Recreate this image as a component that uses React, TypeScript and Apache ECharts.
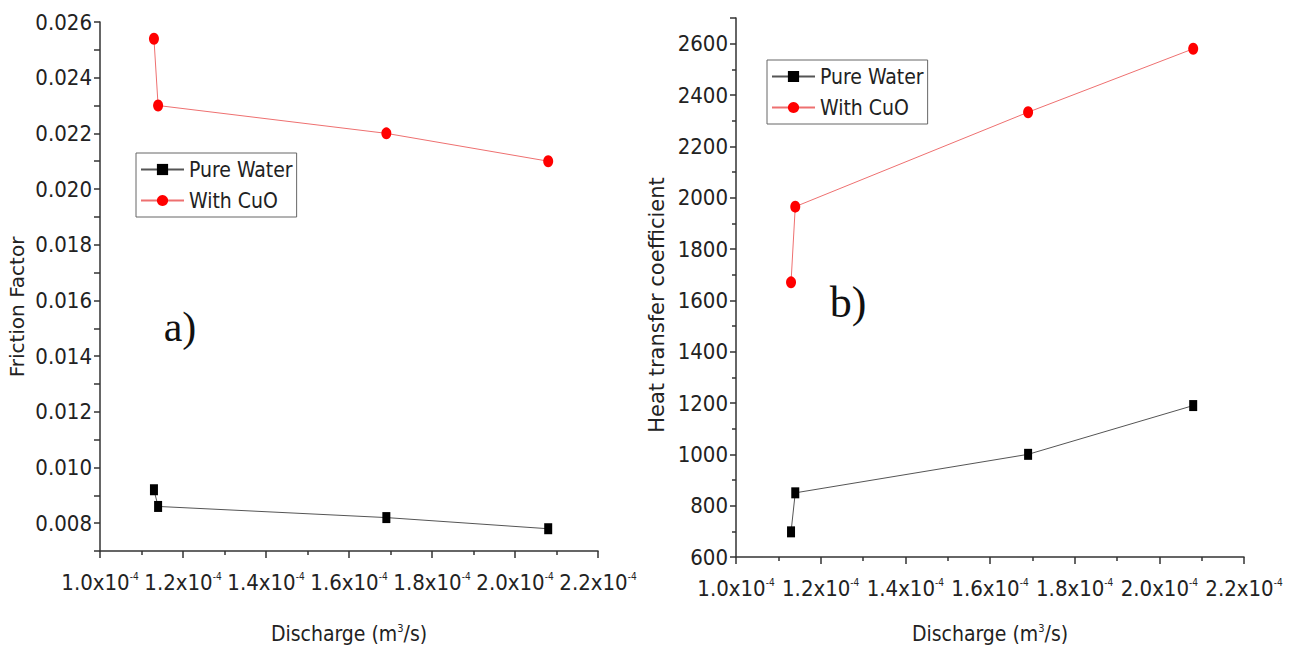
import React, { useEffect, useRef } from "react";
import * as echarts from "echarts";

// Discharge values, in units of 10^-4 m^3/s
const dischargeE4 = [1.13, 1.14, 1.69, 2.08];
// a) Friction factor
const frictionPureWater = [0.0092, 0.0086, 0.0082, 0.0078];
const frictionWithCuO = [0.0254, 0.023, 0.022, 0.021];
// b) Heat transfer coefficient
const heatPureWater = [698, 850, 1000, 1190];
const heatWithCuO = [1670, 1965, 2333, 2580];

const seriesNames = ["Pure Water", "With CuO"];
const xAxisName = "Discharge (m{s|3}/s)";
const yNameA = "Friction Factor";
const yNameB = "Heat transfer coefficient";
const panelLabels = ["a)", "b)"];

const NARROW =
  "'Liberation Sans Narrow', 'Arial Narrow', 'DejaVu Sans Condensed', sans-serif";
const AXIS_COLOR = "#333";
const TEXT_COLOR = "#222";

function xAxisFor(gridIndex: number, nameGap: number) {
  return {
    type: "value",
    gridIndex,
    min: 1.0,
    max: 2.2,
    interval: 0.2,
    axisLine: { show: true, onZero: false, lineStyle: { color: AXIS_COLOR, width: 1.5 } },
    axisTick: { show: true, inside: false, length: 7, lineStyle: { color: AXIS_COLOR, width: 1.5 } },
    minorTick: { show: true, splitNumber: 2, length: 4, lineStyle: { color: AXIS_COLOR, width: 1.5 } },
    splitLine: { show: false },
    minorSplitLine: { show: false },
    axisLabel: {
      margin: 20,
      formatter: (v: number) => `{b|${Number(v).toFixed(1)}x10}{s|-4}`,
      rich: {
        b: { fontFamily: NARROW, fontSize: 22, color: TEXT_COLOR, lineHeight: 22 },
        s: { fontFamily: NARROW, fontSize: 10, color: TEXT_COLOR, lineHeight: 10, verticalAlign: "top" },
      },
    },
    name: xAxisName,
    nameLocation: "middle",
    nameGap,
    nameTextStyle: {
      fontFamily: NARROW,
      fontSize: 21,
      color: TEXT_COLOR,
      rich: {
        s: { fontFamily: NARROW, fontSize: 11, color: TEXT_COLOR, lineHeight: 10, verticalAlign: "top" },
      },
    },
  };
}

function yAxisBase(gridIndex: number) {
  return {
    type: "value",
    gridIndex,
    axisLine: { show: true, onZero: false, lineStyle: { color: AXIS_COLOR, width: 1.5 } },
    axisTick: { show: true, inside: false, length: 6, lineStyle: { color: AXIS_COLOR, width: 1.5 } },
    splitLine: { show: false },
  };
}

function pureWaterSeries(xi: number, data: number[]) {
  return {
    name: seriesNames[0],
    type: "line",
    xAxisIndex: xi,
    yAxisIndex: xi,
    data: dischargeE4.map((x, i) => [x, data[i]]),
    symbol: "rect",
    symbolSize: [8, 11],
    itemStyle: { color: "#000" },
    lineStyle: { color: "#555", width: 1 },
    z: 3,
  };
}

function cuoSeries(xi: number, data: number[]) {
  return {
    name: seriesNames[1],
    type: "line",
    xAxisIndex: xi,
    yAxisIndex: xi,
    data: dischargeE4.map((x, i) => [x, data[i]]),
    symbol: "circle",
    symbolSize: [10, 12],
    itemStyle: { color: "#ff0000" },
    lineStyle: { color: "#ee7070", width: 1 },
    z: 3,
  };
}

function legendAt(left: number, top: number) {
  return {
    left,
    top,
    orient: "vertical",
    itemWidth: 43,
    itemHeight: 14,
    itemGap: 8,
    padding: [5, 4, 5, 4],
    borderColor: "#666",
    borderWidth: 1,
    backgroundColor: "#fff",
    textStyle: { fontFamily: NARROW, fontSize: 21, color: TEXT_COLOR, lineHeight: 23 },
    data: seriesNames,
  };
}

export default function App() {
  const ref = useRef<HTMLDivElement>(null);

  useEffect(() => {
    if (!ref.current) return;
    const chart = echarts.init(ref.current, undefined, { renderer: "svg" });
    const option: any = {
      animation: false,
      backgroundColor: "#fff",
      grid: [
        { left: 100, top: 22, width: 498, height: 529 },
        { left: 736, top: 18, width: 508, height: 539 },
      ],
      xAxis: [xAxisFor(0, 72), xAxisFor(1, 66)],
      yAxis: [
        {
          ...yAxisBase(0),
          min: 0.007,
          max: 0.026,
          interval: 0.001,
          axisLabel: {
            margin: 8,
            fontFamily: NARROW,
            fontSize: 22,
            color: TEXT_COLOR,
            formatter: (v: number) => {
              const k = Math.round(v * 1000);
              return Math.abs(v * 1000 - k) < 1e-6 && k % 2 === 0 ? v.toFixed(3) : "";
            },
          },
        },
        {
          ...yAxisBase(1),
          min: 600,
          max: 2700,
          interval: 200,
          minorTick: { show: true, splitNumber: 2, length: 4, lineStyle: { color: AXIS_COLOR, width: 1.5 } },
          axisLabel: {
            margin: 8,
            fontFamily: NARROW,
            fontSize: 22,
            color: TEXT_COLOR,
            formatter: (v: number) => (Math.round(v) % 200 === 0 ? String(Math.round(v)) : ""),
          },
        },
      ],
      legend: [legendAt(136, 153), legendAt(767, 60)],
      series: [
        pureWaterSeries(0, frictionPureWater),
        cuoSeries(0, frictionWithCuO),
        pureWaterSeries(1, heatPureWater),
        cuoSeries(1, heatWithCuO),
      ],
      graphic: [
        {
          type: "text",
          x: 17,
          y: 307,
          rotation: Math.PI / 2,
          style: {
            text: yNameA,
            font: "20px 'DejaVu Sans', sans-serif",
            fill: TEXT_COLOR,
            textAlign: "center",
            textVerticalAlign: "middle",
          },
        },
        {
          type: "text",
          x: 657,
          y: 305,
          rotation: Math.PI / 2,
          style: {
            text: yNameB,
            font: "21px 'DejaVu Sans', sans-serif",
            fill: TEXT_COLOR,
            textAlign: "center",
            textVerticalAlign: "middle",
          },
        },
        {
          type: "text",
          x: 180,
          y: 327,
          style: {
            text: panelLabels[0],
            font: "42px 'Liberation Serif', 'Times New Roman', serif",
            fill: "#111",
            textAlign: "center",
            textVerticalAlign: "middle",
          },
        },
        {
          type: "text",
          x: 848,
          y: 302,
          style: {
            text: panelLabels[1],
            font: "44px 'Liberation Serif', 'Times New Roman', serif",
            fill: "#111",
            textAlign: "center",
            textVerticalAlign: "middle",
          },
        },
      ],
    };
    chart.setOption(option);
    return () => chart.dispose();
  }, []);

  return (
    <div
      ref={ref}
      style={{ position: "absolute", left: 0, top: 0, width: 1291, height: 650 }}
    />
  );
}
